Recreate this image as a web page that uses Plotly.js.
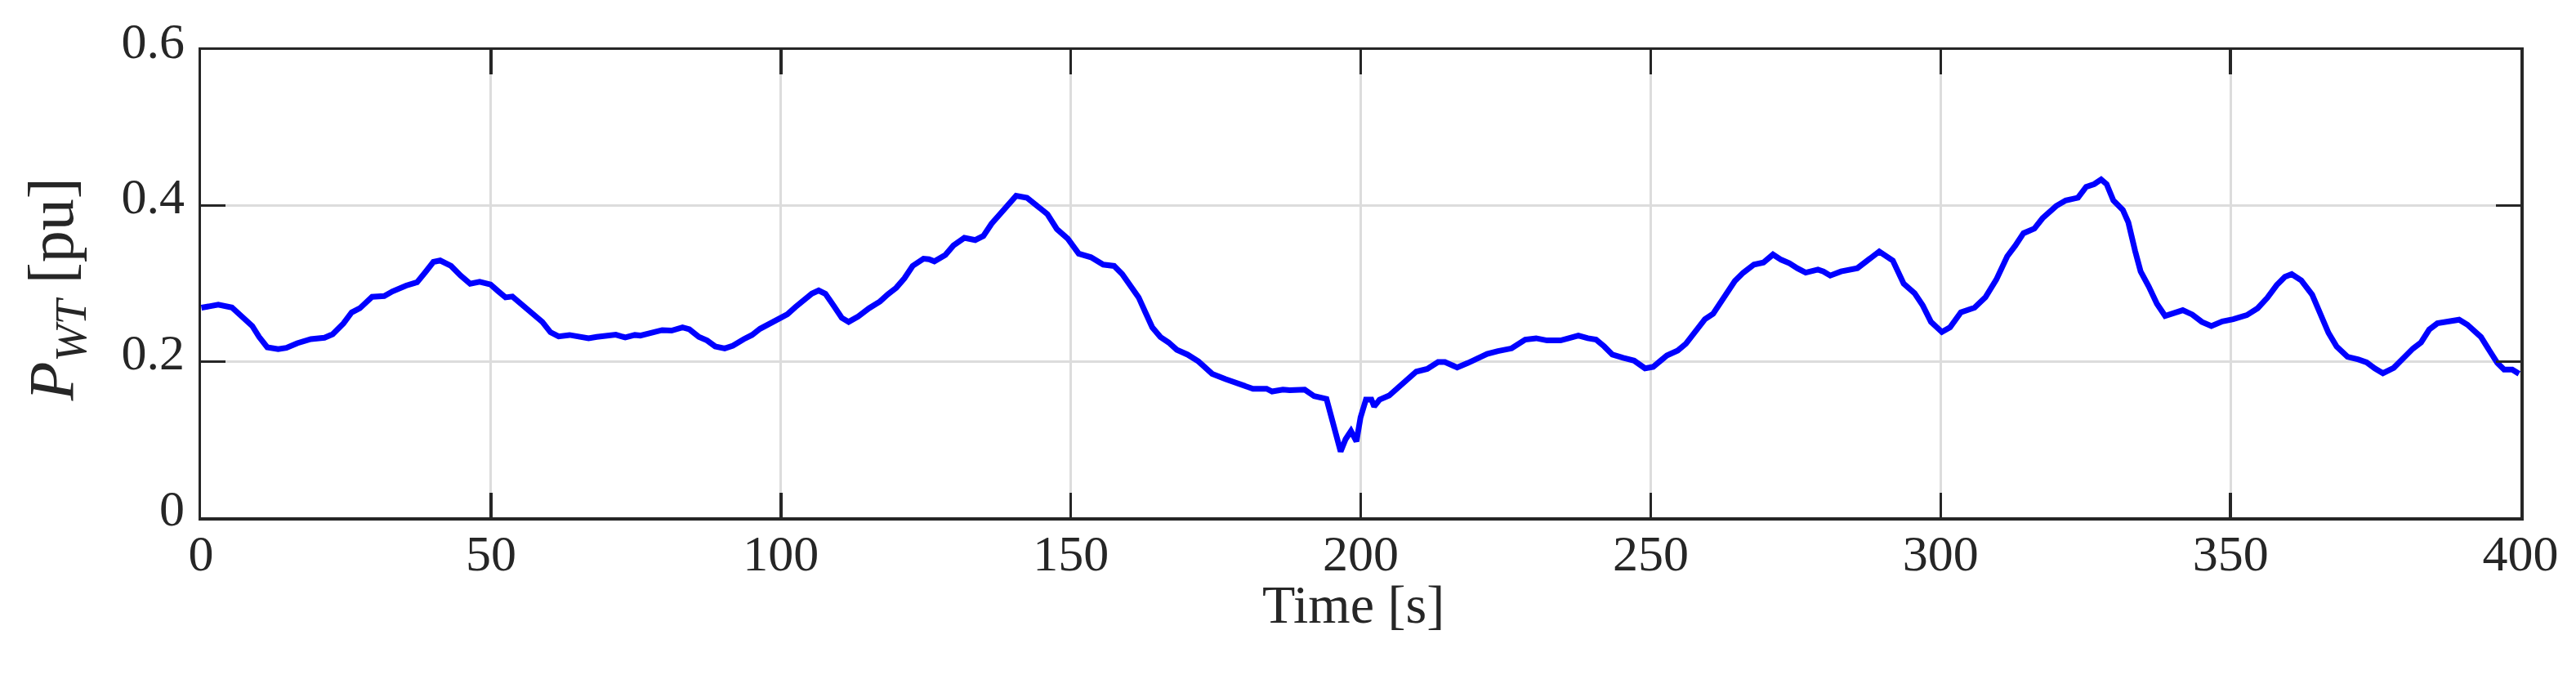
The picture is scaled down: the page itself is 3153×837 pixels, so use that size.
<!DOCTYPE html>
<html>
<head>
<meta charset="utf-8">
<script src="https://cdn.plot.ly/plotly-3.0.1.min.js"></script>
<style>html,body{margin:0;padding:0;background:#fff;}#chart{width:3153px;height:837px;}</style>
</head>
<body>
<div id="chart"></div>
<script>
// Time [s]
const timeS = [
  0.07, 2.98, 5.33, 7.21, 8.85, 10.03, 11.43, 13.31, 14.72, 16.6, 18.95, 21.3, 22.7, 24.58, 25.99, 27.4,
  29.51, 31.6, 33.03, 35.38, 37.26, 38.67, 40.08, 41.25, 43.13, 44.77, 46.42, 48.06, 49.94, 51.11, 52.52,
  53.7, 55.57, 57.45, 58.86, 60.27, 61.68, 63.56, 65.43, 66.84, 68.25, 70.13, 71.54, 73.18, 74.82, 75.76,
  77.64, 79.52, 81.16, 83.04, 84.22, 85.86, 87.27, 88.68, 90.32, 91.73, 93.61, 95.02, 96.42, 98.3, 99.48,
  101.12, 102.53, 103.94, 105.35, 106.52, 107.69, 109.1, 110.51, 111.69, 113.33, 115.21, 117.09, 118.49,
  119.9, 121.31, 122.72, 124.6, 125.54, 126.48, 128.36, 129.76, 131.64, 133.52, 134.93, 136.34, 137.4,
  138.69, 140.57, 142.45, 144.32, 145.97, 147.61, 149.49, 151.37, 153.48, 155.59, 157.47, 158.88, 160.29,
  161.7, 162.87, 164.05, 165.45, 166.86, 168.27, 170.15, 172.03, 174.38, 176.72, 179.07, 181.42, 183.77,
  184.71, 186.58, 187.76, 190.34, 191.98, 194.1, 195.27, 196.54, 197.39, 198.32, 199.26, 199.97, 200.9,
  201.85, 202.32, 203.25, 204.9, 206.3, 207.71, 209.59, 211.47, 213.34, 214.52, 216.63, 218.51, 220.39,
  221.8, 223.67, 226.02, 228.37, 230.25, 232.13, 234.47, 235.88, 237.53, 239.17, 240.58, 241.99, 243.4,
  245.27, 247.15, 249.03, 250.44, 252.79, 254.67, 256.08, 257.95, 259.36, 260.77, 262.65, 264.53, 265.94,
  267.81, 269.46, 271.1, 272.51, 273.92, 275.33, 276.74, 278.85, 279.79, 280.97, 282.84, 285.66, 287.54,
  289.42, 291.76, 293.64, 295.52, 296.93, 298.34, 300.22, 301.63, 303.5, 305.85, 307.73, 309.61, 311.49,
  312.9, 314.3, 316.18, 317.59, 319.94, 321.58, 323.7, 325.1, 326.51, 327.69, 328.63, 329.8, 331.44,
  332.38, 333.55, 334.5, 335.9, 337.31, 338.72, 340.36, 341.77, 343.41, 345.06, 346.7, 348.58, 350.46,
  352.81, 354.68, 356.33, 357.97, 359.38, 360.55, 362.2, 364.08, 365.48, 366.89, 368.3, 370.18, 372.06,
  373.47, 374.88, 376.28, 378.16, 380.04, 381.45, 382.86, 384.27, 385.68, 387.55, 389.43, 390.84, 393.19,
  394.36, 396.01, 397.18, 398.59, 399.76
];
// P_WT [pu]
const powerPu = [
  0.269, 0.2729, 0.2693, 0.2578, 0.2455, 0.2315, 0.2182, 0.2158, 0.2175, 0.2235, 0.2287, 0.2305, 0.235, 0.249, 0.263, 0.2683,
  0.283, 0.284, 0.290, 0.2974, 0.3016, 0.3145, 0.3278, 0.3296, 0.3226, 0.3103, 0.2998, 0.3023, 0.2988, 0.2911, 0.2823,
  0.2834, 0.2718, 0.2613, 0.2508, 0.2375, 0.2322, 0.2340, 0.2326, 0.2298, 0.2315, 0.234, 0.2343, 0.2308, 0.234, 0.2333,
  0.2368, 0.2403, 0.2396, 0.2438, 0.2413, 0.2315, 0.227, 0.2193, 0.2168, 0.2203, 0.2287, 0.234, 0.242, 0.2497, 0.2553,
  0.2606, 0.27, 0.2778, 0.2872, 0.2911, 0.2869, 0.2718, 0.256, 0.2508, 0.2578, 0.2683, 0.277, 0.2865,
  0.2946, 0.3068, 0.3226, 0.332, 0.3313, 0.3285, 0.3366, 0.3489, 0.3587, 0.3559, 0.3611, 0.3769, 0.3860,
  0.3970, 0.4126, 0.4102, 0.3979, 0.3891, 0.3699, 0.3576, 0.3384, 0.3338, 0.3243, 0.3226, 0.3121, 0.2981,
  0.2823, 0.2630, 0.2438, 0.2315, 0.2245, 0.2151, 0.2088, 0.2, 0.1842, 0.1772, 0.1702, 0.165, 0.165,
  0.1615, 0.1639, 0.1632, 0.1639, 0.1555, 0.152, 0.1212, 0.0844, 0.1002, 0.1107, 0.0974, 0.1282, 0.151,
  0.151, 0.1422, 0.151, 0.1562, 0.1660, 0.1737, 0.187, 0.1905, 0.1993, 0.1993, 0.1923, 0.1982, 0.2042,
  0.2098, 0.2133, 0.2168, 0.228, 0.2298, 0.227, 0.227, 0.2298, 0.2333, 0.2298, 0.228, 0.2193, 0.2088,
  0.2046, 0.2011, 0.1912, 0.193, 0.2077, 0.214, 0.2228, 0.242, 0.2543, 0.2613, 0.2823, 0.3033, 0.3138,
  0.3243, 0.3271, 0.3373, 0.3306, 0.3261, 0.3195, 0.3140, 0.318, 0.3156, 0.3103, 0.3156, 0.3198, 0.3296,
  0.3412, 0.3296, 0.2998, 0.2876, 0.2718, 0.2508, 0.2378, 0.2438, 0.2630, 0.269, 0.2823, 0.3051, 0.3349,
  0.3489, 0.3646, 0.3706, 0.3839, 0.3996, 0.4067, 0.4102, 0.4242, 0.4277, 0.4336, 0.4277, 0.4067, 0.3944,
  0.3786, 0.3419, 0.3156, 0.2963, 0.2740, 0.2585, 0.262, 0.2658, 0.2602, 0.2508, 0.2455, 0.2515, 0.2543,
  0.2595, 0.2683, 0.2816, 0.2981, 0.3086, 0.3121, 0.304, 0.2858, 0.2595, 0.2368, 0.2193, 0.206, 0.2025,
  0.1989, 0.1912, 0.1849, 0.1919, 0.207, 0.2165, 0.2245, 0.241, 0.249, 0.2508, 0.2536, 0.2473, 0.2315,
  0.2175, 0.1982, 0.1895, 0.1895, 0.1842
];
const xTicks = [0, 50, 100, 150, 200, 250, 300, 350, 400];
const yTicks = [0, 0.2, 0.4, 0.6];
const xTitle = 'Time [s]';
const yTitle = '<i>P</i><sub><i>WT</i></sub> [pu]';

const fontFam = '"Palatino Linotype", Palatino, "Book Antiqua", "Liberation Serif", "DejaVu Serif", serif';
const ink = '#262626';

const trace = {
  x: timeS, y: powerPu, type: 'scatter', mode: 'lines',
  line: {color: '#0000ff', width: 7}, hoverinfo: 'skip'
};

const axisCommon = {
  showline: true, linecolor: ink, linewidth: 3.5, mirror: 'ticks',
  ticks: 'inside', ticklen: 30, tickwidth: 3.5, tickcolor: ink,
  showgrid: true, gridcolor: '#dcdcdc', gridwidth: 3,
  zeroline: false, tickfont: {family: fontFam, size: 62, color: ink}
};

const layout = {
  width: 3153, height: 837,
  margin: {l: 245.5, r: 68, t: 61.4, b: 204.3, pad: 0},
  paper_bgcolor: '#ffffff', plot_bgcolor: '#ffffff',
  showlegend: false,
  font: {family: fontFam, color: ink},
  xaxis: Object.assign({}, axisCommon, {
    range: [0, 400], tickvals: xTicks, ticktext: xTicks.map(String),
    ticklabelstandoff: -13, automargin: false
  }),
  yaxis: Object.assign({}, axisCommon, {
    range: [0, 0.6], tickvals: yTicks, ticktext: yTicks.map(String),
    ticklabelstandoff: 4, ticklabelshift: -12, automargin: false
  }),
  annotations: [
    {xref: 'paper', yref: 'paper', x: 0.4967, y: -0.186, xanchor: 'center', yanchor: 'middle',
     text: xTitle, showarrow: false, font: {family: fontFam, size: 66, color: ink}},
    {xref: 'paper', yref: 'paper', x: -0.0629, y: 0.488, xanchor: 'center', yanchor: 'middle',
     textangle: -90, text: yTitle, showarrow: false, font: {family: fontFam, size: 78, color: ink}}
  ]
};

Plotly.newPlot('chart', [trace], layout, {staticPlot: true, displayModeBar: false});
</script>
</body>
</html>
